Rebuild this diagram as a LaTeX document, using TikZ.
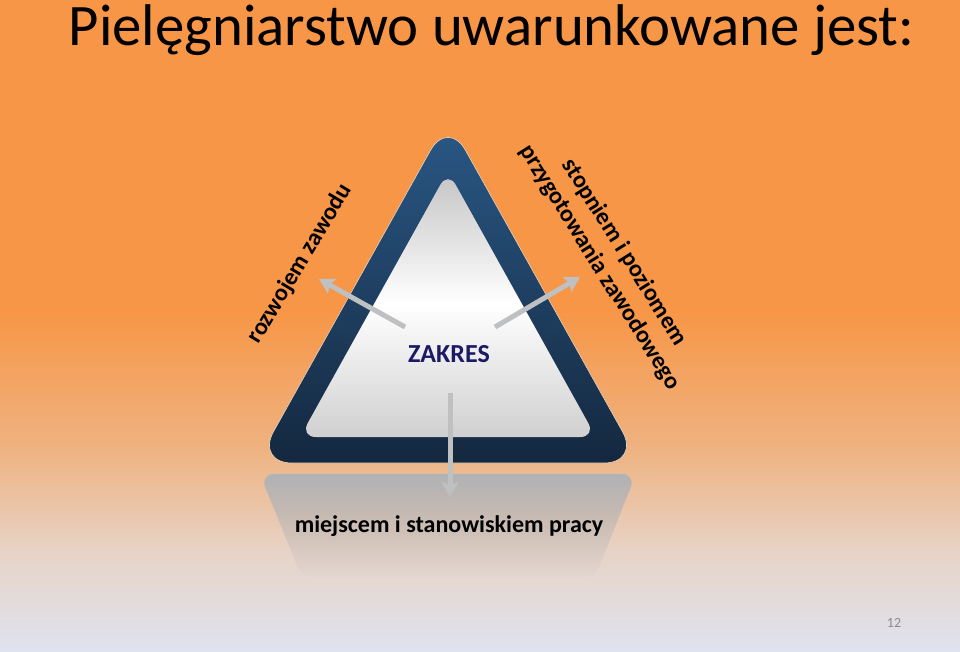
\documentclass[tikz,border=0pt]{standalone}
\usepackage{fontspec}
\setmainfont{Carlito}
\usetikzlibrary{arrows.meta,fadings}
\definecolor{bgorange}{RGB}{247,150,70}
\definecolor{bgpeach}{RGB}{239,179,130}
\definecolor{bgrose}{RGB}{231,211,198}
\definecolor{bglav}{RGB}{223,227,238}
\definecolor{blueup}{RGB}{42,88,134}
\definecolor{bluedown}{RGB}{20,40,63}
\definecolor{rim}{RGB}{236,214,188}
\definecolor{innerup}{RGB}{196,196,196}
\definecolor{innerdown}{RGB}{208,208,208}
\definecolor{plate}{RGB}{176,179,183}
\definecolor{arrgray}{RGB}{190,192,194}
\definecolor{navy}{RGB}{28,26,100}
\definecolor{numgray}{RGB}{139,139,139}

\begin{document}
\begin{tikzpicture}[x=1pt,y=-1pt,
    arr/.style={line width=5pt,draw=arrgray,-{Stealth[length=15pt,width=17pt,inset=3pt]}},
    lbl/.style={font=\bfseries\fontsize{24}{29}\selectfont,align=center,inner sep=0pt}]
      \useasboundingbox (0,0) rectangle (960,651);
      \fill[bgorange] (0,0) rectangle (960,311);
      \shade[top color=bgorange,bottom color=bgpeach] (0,310) rectangle (960,451);
      \shade[top color=bgpeach,bottom color=bgrose] (0,450) rectangle (960,551);
      \shade[top color=bgrose,bottom color=bglav] (0,550) rectangle (960,651);
      \shade[top color=blueup,bottom color=bluedown,draw=rim,line width=0.6pt,rounded corners=36pt]
        (448,119) -- (640,463) -- (256,463) -- cycle;
      \shade[top color=innerup,bottom color=innerdown,middle color=white,rounded corners=16pt]
        (448,171) -- (596,437) -- (300,437) -- cycle;
      \fill[plate,rounded corners=14pt,path fading=south]
        (260,474) -- (636,474) -- (595,578) -- (302,578) -- cycle;
      \node[font=\fontsize{58.8}{70}\selectfont,anchor=base] (t) at (491.5,45) {Pielęgniarstwo uwarunkowane jest:};
      \node[font=\bfseries\fontsize{26}{31}\selectfont,text=navy,anchor=base] (z) at (449,362) {ZAKRES};
      \node[lbl,rotate=59] (r) at (300,264) {rozwojem zawodu};
      \node[lbl,rotate=-58] (s) at (612,260) {stopniem i poziomem\\przygotowania zawodowego};
      \node[lbl,anchor=base] (m) at (449,532) {miejscem i stanowiskiem pracy};
      \node[font=\fontsize{14}{17}\selectfont,text=numgray,anchor=base] (n) at (894,627) {12};
      \coordinate (a1) at (405,327);
      \coordinate (a2) at (319,279);
      \coordinate (b1) at (495,327);
      \coordinate (b2) at (580,277);
      \coordinate (c1) at (450,393);
      \coordinate (c2) at (450,497);
      \draw [arr] (a1) -- (a2);
      \draw [arr] (b1) -- (b2);
      \draw [arr] (c1) -- (c2);
    \end{tikzpicture}
\end{document}
